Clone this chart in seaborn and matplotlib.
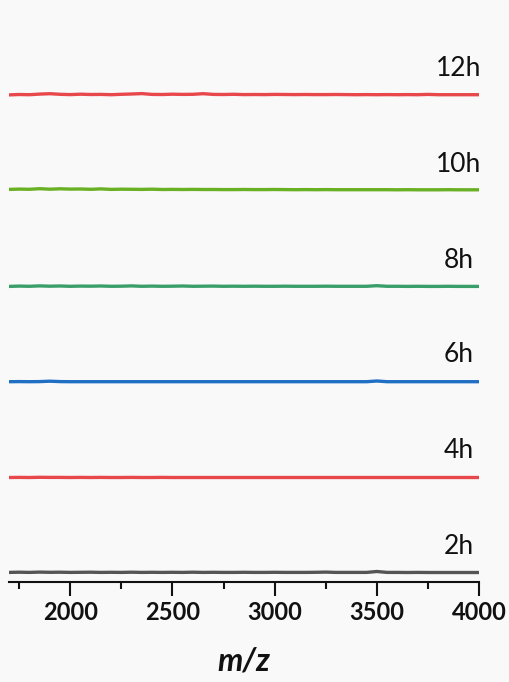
import matplotlib
matplotlib.use("Agg")
import matplotlib.pyplot as plt
import seaborn as sns
import pandas as pd

sns.set_theme(style="white")
plt.rcParams['font.family'] = ['Lato', 'DejaVu Sans']

# m/z sampling points
mz = [1700, 1750, 1800, 1850, 1900, 1950, 2000, 2050, 2100, 2150, 2200, 2250,
      2300, 2350, 2400, 2450, 2500, 2550, 2600, 2650, 2700, 2750, 2800, 2850,
      2900, 2950, 3000, 3050, 3100, 3150, 3200, 3250, 3300, 3350, 3400, 3450,
      3500, 3550, 3600, 3650, 3700, 3750, 3800, 3850, 3900, 3950, 4000]

labels = ["2h", "4h", "6h", "8h", "10h", "12h"]
colors = ["#555555", "#e8474c", "#1f6fc4", "#3a9e6a", "#6ab023", "#e8474c"]

# small intensities (arbitrary units)
i_2h  = [0.6, 0.8, 0.6, 0.9, 0.7, 0.8, 0.6, 0.7, 0.8, 0.6, 0.7, 0.6, 0.8, 0.6, 0.7, 0.6,
         0.7, 0.6, 0.8, 0.6, 0.7, 0.6, 0.6, 0.7, 0.6, 0.6, 0.7, 0.6, 0.6, 0.6, 0.7, 0.9,
         0.6, 0.6, 0.6, 0.6, 1.5, 0.6, 0.6, 0.5, 0.6, 0.5, 0.5, 0.5, 0.5, 0.5, 0.5]
i_4h  = [0.5, 0.6, 0.5, 0.7, 0.6, 0.6, 0.5, 0.6, 0.5, 0.6, 0.5, 0.5, 0.6, 0.5, 0.5, 0.6,
         0.5, 0.5, 0.5, 0.5, 0.5, 0.5, 0.5, 0.5, 0.5, 0.5, 0.5, 0.5, 0.5, 0.5, 0.5, 0.5,
         0.5, 0.5, 0.5, 0.5, 0.5, 0.5, 0.5, 0.5, 0.5, 0.5, 0.5, 0.5, 0.5, 0.5, 0.5]
i_6h  = [0.3, 0.4, 0.3, 0.4, 0.8, 0.4, 0.3, 0.3, 0.3, 0.3, 0.3, 0.3, 0.3, 0.3, 0.3, 0.3,
         0.3, 0.3, 0.3, 0.3, 0.3, 0.3, 0.3, 0.3, 0.3, 0.3, 0.3, 0.3, 0.3, 0.3, 0.3, 0.3,
         0.3, 0.3, 0.3, 0.3, 1.0, 0.3, 0.3, 0.3, 0.3, 0.3, 0.3, 0.3, 0.3, 0.3, 0.3]
i_8h  = [0.6, 0.9, 0.7, 1.1, 0.8, 1.0, 0.7, 0.9, 0.8, 1.0, 0.7, 0.8, 1.1, 0.7, 0.9, 0.7,
         0.8, 1.0, 0.7, 0.8, 0.9, 0.7, 0.8, 0.7, 0.8, 0.7, 0.7, 0.8, 0.7, 0.7, 0.7, 0.8,
         0.7, 0.7, 0.7, 0.7, 1.3, 0.7, 0.7, 0.6, 0.7, 0.6, 0.6, 0.7, 0.6, 0.6, 0.6]
i_10h = [1.6, 1.9, 1.7, 2.3, 1.8, 2.2, 1.9, 2.0, 1.7, 2.1, 1.6, 1.8, 1.7, 1.6, 1.8, 1.5,
         1.6, 1.5, 1.6, 1.5, 1.5, 1.4, 1.4, 1.5, 1.4, 1.4, 1.5, 1.4, 1.3, 1.4, 1.3, 1.4,
         1.3, 1.3, 1.3, 1.3, 1.3, 1.3, 1.2, 1.3, 1.2, 1.2, 1.2, 1.3, 1.2, 1.2, 1.2]
i_12h = [1.1, 1.5, 1.3, 1.9, 2.3, 1.7, 1.4, 1.8, 1.5, 1.6, 1.3, 1.7, 2.0, 2.4, 1.6, 1.5,
         1.8, 1.6, 1.7, 2.3, 1.6, 1.5, 1.7, 1.4, 1.5, 1.4, 1.6, 1.5, 1.4, 1.5, 1.4, 1.4,
         1.5, 1.4, 1.3, 1.4, 1.3, 1.4, 1.3, 1.4, 1.3, 1.6, 1.3, 1.3, 1.3, 1.3, 1.3]
intensities = [i_2h, i_4h, i_6h, i_8h, i_10h, i_12h]
offsets = [0, 95, 191, 286, 382, 477]

rows = []
for lab, inten, off in zip(labels, intensities, offsets):
    for m, v in zip(mz, inten):
        rows.append({"mz": m, "y": v + off, "time": lab})
df = pd.DataFrame(rows)

fig = plt.figure(figsize=(5.10, 6.82), dpi=100)
fig.patch.set_facecolor("#f9f9f9")
ax = fig.add_axes([9/510, 100/682, 470/510, 562/682])
ax.set_facecolor("#f9f9f9")

sns.lineplot(data=df, x="mz", y="y", hue="time", palette=dict(zip(labels, colors)),
             hue_order=labels, linewidth=2.4, legend=False, ax=ax, estimator=None)

for lab, off, col in zip(labels, offsets, colors):
    ax.text(3900, off + 27, lab, ha="center", va="center", fontsize=19, color="#111111")

ax.set_xlim(1700, 4000)
ax.set_ylim(-9, 553)
ax.set_xticks([2000, 2500, 3000, 3500, 4000])
ax.set_xticks([1750, 2250, 2750, 3250, 3750], minor=True)
ax.tick_params(axis="x", which="major", direction="out", length=10, width=1.5,
               labelsize=17, pad=4, bottom=True, colors="#111111")
ax.tick_params(axis="x", which="minor", direction="out", length=5, width=1.5, bottom=True,
               colors="#111111")
for lbl in ax.get_xticklabels():
    lbl.set_fontweight("bold")
ax.set_yticks([])
ax.set_ylabel("")
ax.set_xlabel("m/z", fontsize=23, fontweight="bold", fontstyle="italic", labelpad=16,
              color="#111111")
for s in ["left", "right", "top"]:
    ax.spines[s].set_visible(False)
ax.spines["bottom"].set_linewidth(1.5)
ax.spines["bottom"].set_color("#111111")

fig.savefig("out.png", dpi=100, facecolor=fig.get_facecolor())
